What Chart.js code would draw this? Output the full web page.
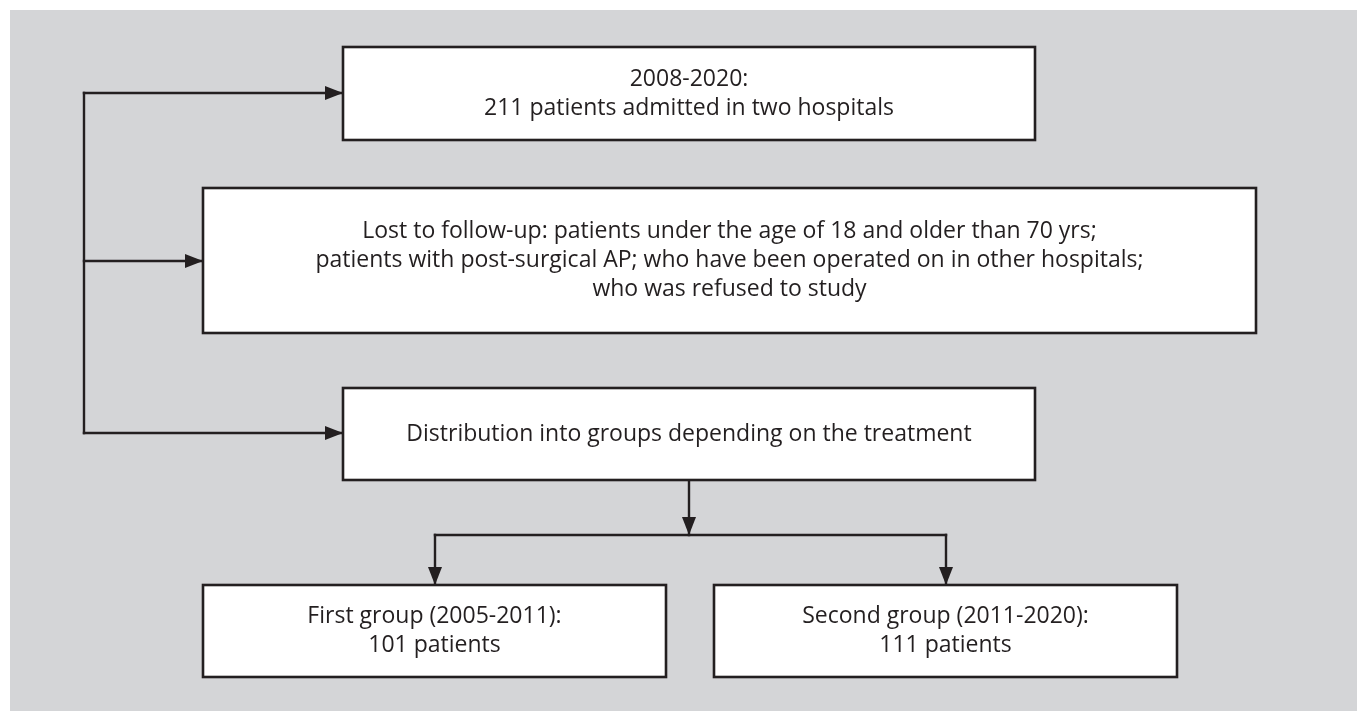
<!DOCTYPE html>
<html>
<head>
<meta charset="utf-8">
<script src="https://cdn.jsdelivr.net/npm/chart.js@4.4.1/dist/chart.umd.min.js"></script>
<style>
html,body{margin:0;padding:0;background:#ffffff;}
#c{display:block;}
</style>
</head>
<body>
<canvas id="c" width="1357" height="711"></canvas>
<script>
// ---- content (texts of the flowchart boxes) ----
const boxTexts = [
  ["2008-2020:", "211 patients admitted in two hospitals"],
  ["Lost to follow-up: patients under the age of 18 and older than 70 yrs;",
   "patients with post-surgical AP; who have been operated on in other hospitals;",
   "who was refused to study"],
  ["Distribution into groups depending on the treatment"],
  ["First group (2005-2011):", "101 patients"],
  ["Second group (2011-2020):", "111 patients"]
];

// ---- layout (diagram coordinates, same units as the hidden axes) ----
const boxLeft   = [343, 203, 343, 203, 714];
const boxRight  = [1035, 1256, 1035, 666, 1177];
const boxTop    = [47, 188, 388, 585, 585];
const boxBottom = [140, 333, 480, 677, 677];

// connectors: polylines, arrowhead at last point when flagged
const connectorXs = [
  [84, 84],
  [84, 343],
  [84, 203],
  [84, 343],
  [689, 689],
  [435, 946],
  [435, 435],
  [946, 946]
];
const connectorYs = [
  [93, 433],
  [93, 93],
  [261, 261],
  [433, 433],
  [480, 535],
  [535, 535],
  [535, 585],
  [535, 585]
];
const connectorArrow = [false, true, true, true, true, false, true, true];

const INK = '#231f20';
const BG = '#d4d5d7';
const FONT_FAMILY = '"Open Sans", "Noto Sans", "DejaVu Sans", sans-serif';

const datasets = connectorXs.map((xs, i) => ({
  data: xs.map((x, j) => ({x: x, y: connectorYs[i][j]})),
  showLine: true,
  borderColor: INK,
  borderWidth: 2.4,
  pointRadius: 0,
  fill: false,
  borderCapStyle: 'square',
  borderJoinStyle: 'miter'
}));

const flowPlugin = {
  id: 'flow',
  beforeDraw(chart) {
    const ctx = chart.ctx;
    const xs = chart.scales.x, ys = chart.scales.y;
    ctx.save();
    ctx.fillStyle = '#ffffff';
    ctx.fillRect(0, 0, chart.width, chart.height);
    const x0 = xs.getPixelForValue(10), y0 = ys.getPixelForValue(10);
    const x1 = xs.getPixelForValue(1357), y1 = ys.getPixelForValue(711);
    ctx.fillStyle = BG;
    ctx.fillRect(x0, y0, x1 - x0, y1 - y0);
    ctx.restore();
  },
  afterDatasetsDraw(chart) {
    const ctx = chart.ctx;
    const xs = chart.scales.x, ys = chart.scales.y;
    ctx.save();
    // arrowheads
    ctx.fillStyle = INK;
    connectorXs.forEach((cx, i) => {
      if (!connectorArrow[i]) return;
      const n = cx.length;
      const tx = xs.getPixelForValue(cx[n - 1]), ty = ys.getPixelForValue(connectorYs[i][n - 1]);
      const px = xs.getPixelForValue(cx[n - 2]), py = ys.getPixelForValue(connectorYs[i][n - 2]);
      const ang = Math.atan2(ty - py, tx - px);
      const len = 18, half = 7;
      ctx.beginPath();
      ctx.moveTo(tx, ty);
      ctx.lineTo(tx - len * Math.cos(ang) + half * Math.sin(ang), ty - len * Math.sin(ang) - half * Math.cos(ang));
      ctx.lineTo(tx - len * Math.cos(ang) - half * Math.sin(ang), ty - len * Math.sin(ang) + half * Math.cos(ang));
      ctx.closePath();
      ctx.fill();
    });
    // boxes
    const fontSize = 23;
    const lineH = 29;
    boxTexts.forEach((lines, i) => {
      const l = xs.getPixelForValue(boxLeft[i]), r = xs.getPixelForValue(boxRight[i]);
      const t = ys.getPixelForValue(boxTop[i]), b = ys.getPixelForValue(boxBottom[i]);
      ctx.fillStyle = '#ffffff';
      ctx.fillRect(l, t, r - l, b - t);
      ctx.strokeStyle = INK;
      ctx.lineWidth = 2.6;
      ctx.strokeRect(l, t, r - l, b - t);
      ctx.fillStyle = INK;
      ctx.font = fontSize + 'px ' + FONT_FAMILY;
      ctx.textAlign = 'center';
      ctx.textBaseline = 'middle';
      const cx = (l + r) / 2, cy = (t + b) / 2;
      lines.forEach((s, j) => {
        const y = cy + (j - (lines.length - 1) / 2) * lineH;
        ctx.fillText(s, cx, y);
      });
    });
    ctx.restore();
  }
};

new Chart(document.getElementById('c'), {
  type: 'scatter',
  data: { datasets: datasets },
  options: {
    responsive: false,
    devicePixelRatio: 1,
    animation: false,
    layout: { padding: 0 },
    scales: {
      x: { type: 'linear', min: 0, max: 1357, display: false },
      y: { type: 'linear', min: 0, max: 711, reverse: true, display: false }
    },
    plugins: { legend: { display: false }, tooltip: { enabled: false } },
    events: []
  },
  plugins: [flowPlugin]
});
</script>
</body>
</html>
